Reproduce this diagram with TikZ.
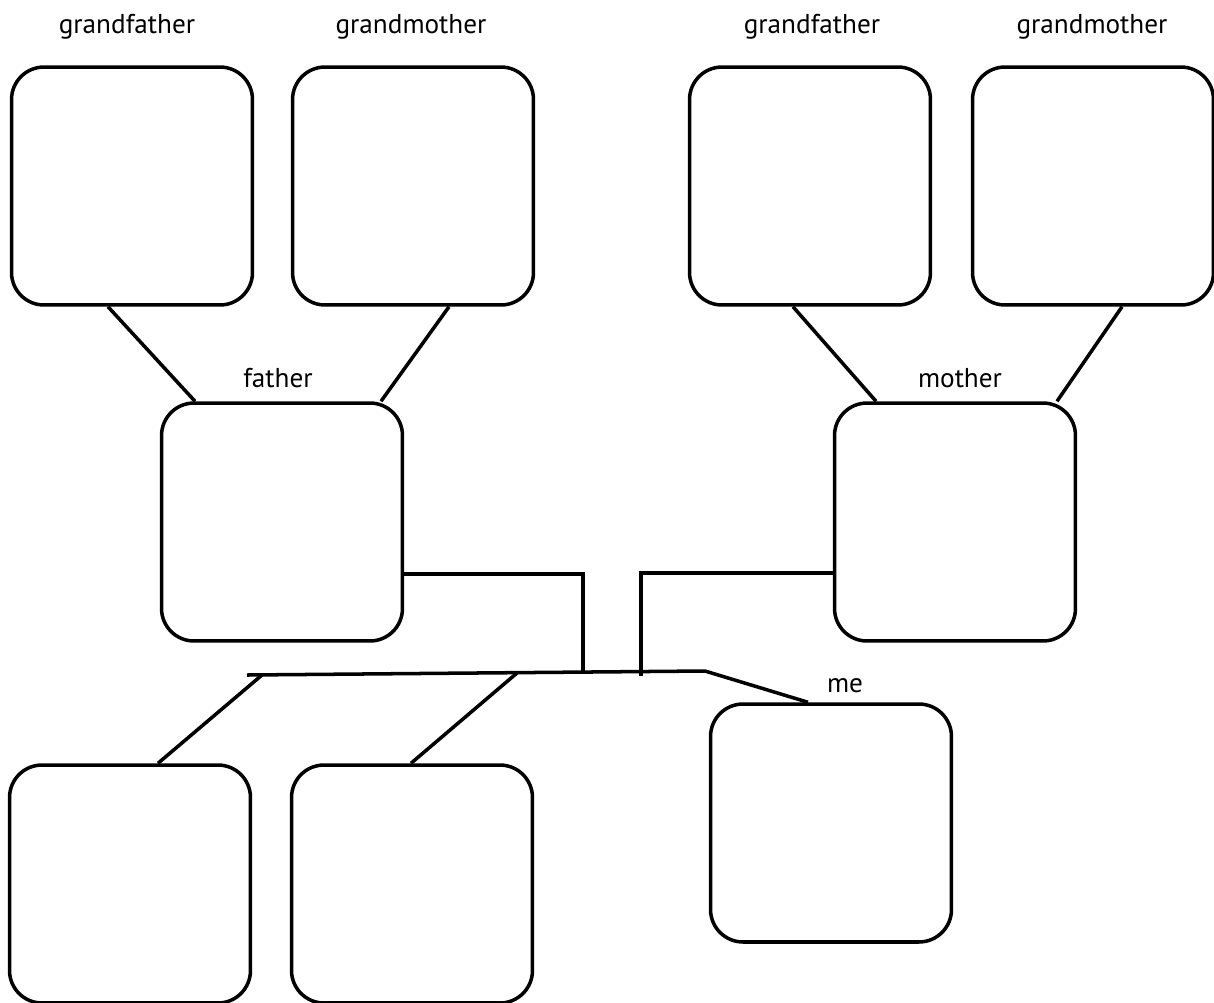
\documentclass[tikz,border=0pt]{standalone}
\usepackage{fontspec}
\setmainfont{PT Sans}
\usetikzlibrary{calc}

\begin{document}
\begin{tikzpicture}[x=0.02cm,y=-0.02cm,line width=2pt,
				box/.style={draw,rounded corners=0.65cm,minimum width=4.82cm,minimum height=4.76cm,inner sep=0pt},
				lbl/.style={font=\fontsize{15.5}{18}\selectfont,inner sep=0pt}]
				\useasboundingbox (0,0) rectangle (1214,1002);
				\node [box] (gfL) at (132,186) {};
				\node [box] (gmL) at (413,186) {};
				\node [box] (gfR) at (810,186) {};
				\node [box] (gmR) at (1093,186) {};
				\node [box] (father) at (282,522) {};
				\node [box] (mother) at (955,522) {};
				\node [box] (me) at (831,823) {};
				\node [box] (kidA) at (130,884) {};
				\node [box] (kidB) at (412,884) {};
				\node [lbl] (tgfL) at (127,27) {grandfather};
				\node [lbl] (tgmL) at (411,27) {grandmother};
				\node [lbl] (tgfR) at (812,27) {grandfather};
				\node [lbl] (tgmR) at (1092,27) {grandmother};
				\node [lbl] (tfather) at (278,378) {father};
				\node [lbl] (tmother) at (960,378) {mother};
				\node [lbl] (tme) at (845,686) {me};
				\coordinate (busL) at (247,675);
				\coordinate (busR) at (705,671);
				\coordinate (kA) at (262,675);
				\coordinate (kB) at (517,673);
				\coordinate (fJ) at (583,673);
				\coordinate (mJ) at (641,676);
				\draw ($(gfL.south)+(-24,0)$) -- ($(father.north)+(-87,0)$);
				\draw ($(gmL.south)+(36,0)$) -- ($(father.north)+(99,0)$);
				\draw ($(gfR.south)+(-17,0)$) -- ($(mother.north)+(-79,0)$);
				\draw ($(gmR.south)+(29,0)$) -- ($(mother.north)+(102,0)$);
				\draw ($(father.east)+(0,52)$) -| (fJ);
				\draw ($(mother.west)+(0,51)$) -| (mJ);
				\draw (busL) -- (busR) -- ($(me.north)+(-23,0)$);
				\draw (kA) -- ($(kidA.north)+(28,0)$);
				\draw (kB) -- ($(kidB.north)+(-1,0)$);
\end{tikzpicture}
\end{document}
